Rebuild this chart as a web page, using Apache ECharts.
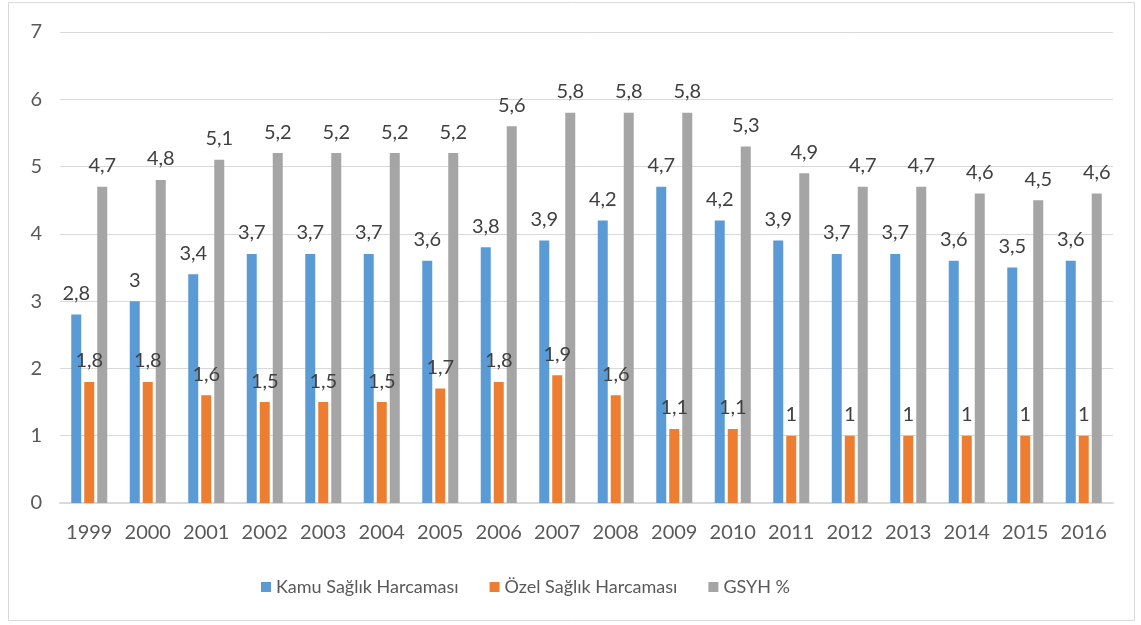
<!DOCTYPE html>
<html>
<head>
<meta charset="utf-8">
<script src="https://cdn.jsdelivr.net/npm/echarts@6/dist/echarts.min.js"></script>
<style>
  html, body { margin: 0; padding: 0; background: #fff; }
  #chart { width: 1141px; height: 625px; }
</style>
</head>
<body>
<div id="chart"></div>
<script>
// yıllar ve seriler
const years = ['1999', '2000', '2001', '2002', '2003', '2004', '2005', '2006', '2007',
  '2008', '2009', '2010', '2011', '2012', '2013', '2014', '2015', '2016'];
const kamu = [2.8, 3, 3.4, 3.7, 3.7, 3.7, 3.6, 3.8, 3.9, 4.2, 4.7, 4.2, 3.9, 3.7, 3.7, 3.6, 3.5, 3.6];
const ozel = [1.8, 1.8, 1.6, 1.5, 1.5, 1.5, 1.7, 1.8, 1.9, 1.6, 1.1, 1.1, 1, 1, 1, 1, 1, 1];
const gsyh = [4.7, 4.8, 5.1, 5.2, 5.2, 5.2, 5.2, 5.6, 5.8, 5.8, 5.8, 5.3, 4.9, 4.7, 4.7, 4.6, 4.5, 4.6];
const seriesNames = ['Kamu Sağlık Harcaması', 'Özel Sağlık Harcaması', 'GSYH %'];
const colors = ['#5b9bd5', '#ed7d31', '#a5a5a5'];

const fontFamily = 'Lato, "Open Sans", sans-serif';

function makeSeries(name, data, color) {
  return {
    name: name,
    type: 'bar',
    data: data,
    barWidth: 10,
    barGap: '30%',
    itemStyle: { color: color },
    label: {
      show: true,
      position: 'top',
      distance: 11,
      color: '#404040',
      fontSize: 20,
      fontFamily: fontFamily,
      formatter: p => String(p.value).replace('.', ',')
    }
  };
}

const chart = echarts.init(document.getElementById('chart'));
chart.setOption({
  animation: false,
  color: colors,
  grid: { left: 60, right: 28, top: 32, bottom: 122 },
  graphic: [{
    type: 'rect',
    shape: { x: 8.5, y: 2.5, width: 1126, height: 618 },
    style: { fill: 'none', stroke: '#d9d9d9', lineWidth: 1 },
    silent: true
  }],
  legend: {
    bottom: 24,
    left: 256,
    itemWidth: 10,
    itemHeight: 10,
    itemGap: 31,
    icon: 'rect',
    textStyle: { color: '#595959', fontSize: 18, fontFamily: fontFamily },
    data: seriesNames
  },
  xAxis: {
    type: 'category',
    data: years,
    axisLine: { lineStyle: { color: '#d9d9d9', width: 2 } },
    axisTick: { show: false },
    axisLabel: { color: '#595959', fontSize: 20, fontFamily: fontFamily, margin: 20, interval: 0 }
  },
  yAxis: {
    type: 'value',
    min: 0,
    max: 7,
    interval: 1,
    axisLine: { show: false },
    axisTick: { show: false },
    axisLabel: { color: '#595959', fontSize: 20, fontFamily: fontFamily, margin: 18 },
    splitLine: { lineStyle: { color: '#d9d9d9', width: 1 } }
  },
  series: [
    makeSeries(seriesNames[0], kamu, colors[0]),
    makeSeries(seriesNames[1], ozel, colors[1]),
    makeSeries(seriesNames[2], gsyh, colors[2])
  ]
});
</script>
</body>
</html>
